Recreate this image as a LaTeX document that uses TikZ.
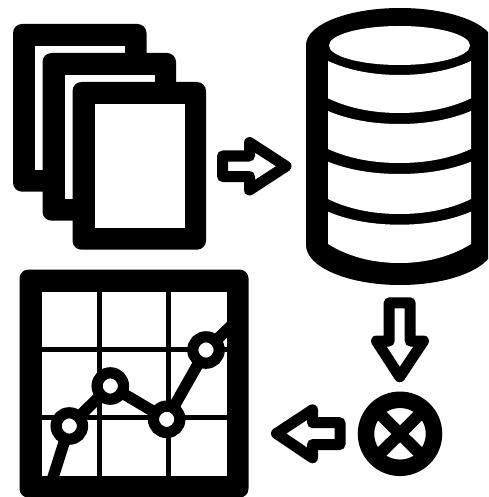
\documentclass[tikz,border=0pt]{standalone}
\tikzset{
  ink/.style={fill=black},
  paper/.style={fill=white},
  arrowline/.style={draw=black,fill=white,line width=11pt,line join=round},
  gridline/.style={draw=black,line width=5.2pt},
  trend/.style={draw=black,line width=11.4pt},
  marker/.style={draw=black,fill=white,line width=11.2pt},
}
\newcommand{\sheet}[2]{% x offset, y offset
  \fill[ink,rounded corners=9pt] (13+#1,24+#2) rectangle (146.5+#1,191.7+#2);
  \fill[paper] (35+#1,46+#2) rectangle (125+#1,170+#2);
}
\newcommand{\band}[4]{% edge top, centre top, edge bottom, centre bottom
  \fill[paper] (328,#1) .. controls (350,{#1+0.72*(#2-#1)}) and (375,#2) .. (399.5,#2)
    .. controls (424,#2) and (449,{#1+0.72*(#2-#1)}) .. (471,#1)
    -- (471,#3) .. controls (449,{#3+0.72*(#4-#3)}) and (424,#4) .. (399.5,#4)
    .. controls (375,#4) and (350,{#3+0.72*(#4-#3)}) .. (328,#3) -- cycle;
}
\begin{document}
\begin{tikzpicture}[x=1pt,y=-1pt]
\useasboundingbox (0,0) rectangle (488,497);
\clip (0,0) rectangle (488,497);
\fill[white] (0,0) rectangle (488,497);
% stacked sheets
\sheet{0}{0}
\sheet{29.5}{29}
\sheet{59.5}{58}
% arrow right
\draw[arrowline] (222.5,156) -- (249.5,156) -- (249.5,142.5) -- (286,166.2) -- (249.5,190) -- (249.5,176.5) -- (222.5,176.5) -- cycle;
% database
\fill[ink] (306,45) .. controls (306,24.6) and (348,8) .. (400,8)
  .. controls (452,8) and (494,24.6) .. (494,45)
  -- (494,245) .. controls (494,267) and (452,285) .. (400,285)
  .. controls (348,285) and (306,267) .. (306,245) -- cycle;
\fill[paper] (399.5,45.5) ellipse [x radius=70.5pt,y radius=19.5pt];
\band{61}{75}{98.3}{113}
\band{111}{124}{149}{163}
\band{161.7}{174}{199}{214}
\band{211.7}{224.7}{244}{263}
% arrow down
\draw[arrowline] (389.2,302.8) -- (410.2,302.8) -- (410.2,341) -- (423.5,341) -- (399.7,376.8) -- (376.5,341) -- (389.2,341) -- cycle;
% multiply circle
\coordinate (mc) at (400,433.8);
\draw[black,line width=16.5pt] (mc) circle [radius=34pt];
\draw[black,line width=12pt] (377,411) -- (423,456.6);
\draw[black,line width=12pt] (423,411) -- (377,456.6);
% arrow left
\draw[arrowline] (340,422.7) -- (312.5,422.7) -- (312.5,409.8) -- (276.5,433.5) -- (312.5,457.8) -- (312.5,444.5) -- (340,444.5) -- cycle;
% chart
\fill[ink,rounded corners=9pt] (19.5,269.5) rectangle (248.5,497.7);
\fill[paper] (41.5,291.7) rectangle (226.7,475.7);
\draw[gridline] (99.5,291.7) -- (99.5,475.7);
\draw[gridline] (168.3,291.7) -- (168.3,475.7);
\draw[gridline] (41.5,349.3) -- (226.7,349.3);
\draw[gridline] (41.5,417.8) -- (226.7,417.8);
\coordinate (p0) at (52.8,478);
\coordinate (p1) at (69.3,426);
\coordinate (p2) at (110.3,386);
\coordinate (p3) at (166.7,419.3);
\coordinate (p4) at (206,350);
\coordinate (p5) at (232,325);
\draw[trend] (p0) -- (p1) -- (p2) -- (p3) -- (p4) -- (p5);
\foreach \p in {p1,p2,p3,p4} \draw[marker] (\p) circle [radius=13.2pt];
\end{tikzpicture}
\end{document}
